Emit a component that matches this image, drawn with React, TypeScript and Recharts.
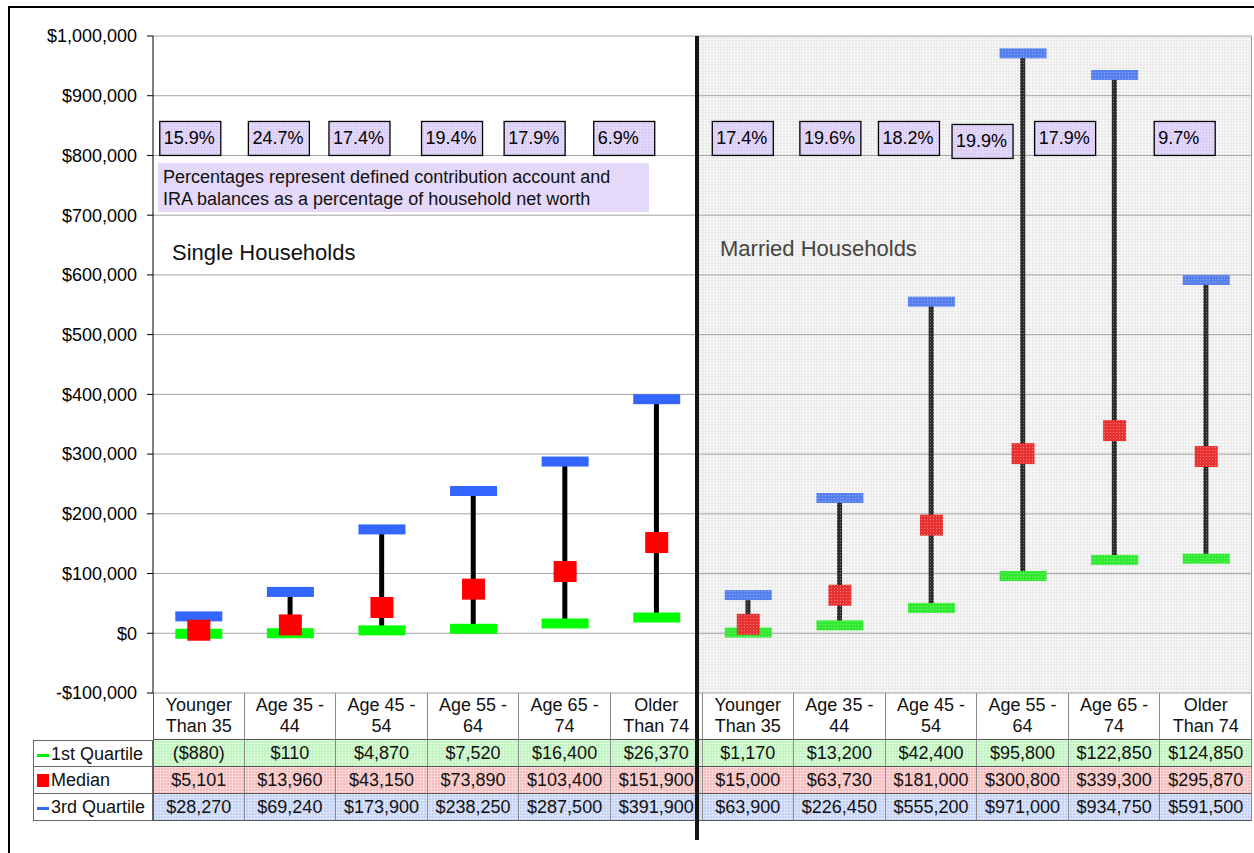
import React from "react";
import { ComposedChart, Bar, Line, XAxis, YAxis, CartesianGrid, Cell } from "recharts";

// age groups repeat for single and married households
const ageGroups = ["Younger\nThan 35", "Age 35 -\n44", "Age 45 -\n54", "Age 55 -\n64", "Age 65 -\n74", "Older\nThan 74"];
const householdTypes = ["Single Households", "Married Households"];

const firstQuartile = [-880, 110, 4870, 7520, 16400, 26370, 1170, 13200, 42400, 95800, 122850, 124850];
const median = [5101, 13960, 43150, 73890, 103400, 151900, 15000, 63730, 181000, 300800, 339300, 295870];
const thirdQuartile = [28270, 69240, 173900, 238250, 287500, 391900, 63900, 226450, 555200, 971000, 934750, 591500];
const dcShare = [15.9, 24.7, 17.4, 19.4, 17.9, 6.9, 17.4, 19.6, 18.2, 19.9, 17.9, 9.7];

const yTicks = [-100000, 0, 100000, 200000, 300000, 400000, 500000, 600000, 700000, 800000, 900000, 1000000];
const noteText = ["Percentages represent defined contribution account and", "IRA balances as a percentage of household net worth"];

// layout only: where the % boxes sit relative to each column centre
const PCT_BOX_BASE = 800000;
const PCT_NUDGE = [-9, -12, -23, -22, -31, -33, -6, -10, -23, -41, -50, -22];
const PCT_DROP = [0, 0, 0, 0, 0, 0, 0, 0, 0, 3, 0, 0];

const FONT = '"Liberation Sans", Arial, sans-serif';

const fmtAxis = (v: number) => (v < 0 ? `-$${Math.abs(v).toLocaleString("en-US")}` : `$${v.toLocaleString("en-US")}`);
const fmtCell = (v: number) => (v < 0 ? `($${Math.abs(v).toLocaleString("en-US")})` : `$${v.toLocaleString("en-US")}`);

const SOLID = { q1: "#00ff00", med: "#ff0000", q3: "#3366ff", whisker: "#000000" };
const HATCH = { q1: "url(#hGreen)", med: "url(#hRed)", q3: "url(#hBlue)", whisker: "url(#hWhisker)" };

const marker = (kind: "q1" | "med" | "q3") => (p: any) => {
  const { cx, cy, index } = p;
  if (cx == null || cy == null) return <g key={`${kind}-${index}`} />;
  const fill = index < 6 ? SOLID[kind] : HATCH[kind];
  if (kind === "med") {
    return <rect key={`${kind}-${index}`} x={cx - 11.5} y={cy - 10.5} width={23} height={21} fill={fill} />;
  }
  return <rect key={`${kind}-${index}`} x={cx - 23.5} y={cy - 5} width={47} height={10} fill={fill} />;
};

const pctBox = (p: any) => {
  const { cx, cy, index, payload } = p;
  if (cx == null || cy == null) return <g key={`pct-${index}`} />;
  const x = cx + PCT_NUDGE[index] - 30;
  const y = cy - 34 + PCT_DROP[index];
  return (
    <g key={`pct-${index}`}>
      <rect x={x} y={y} width={61} height={34} fill="url(#hPurple)" stroke="#000" strokeWidth={1.3} />
      <text x={x + 4} y={y + 16} dy="0.35em" fontSize={18} fontFamily={FONT} fill="#000">
        {payload.pct.toFixed(1)}%
      </text>
    </g>
  );
};

function Pattern({ id, base, dot }: { id: string; base: string; dot: string }) {
  return (
    <pattern id={id} width={3} height={3} patternUnits="userSpaceOnUse">
      <rect width={3} height={3} fill={base} />
      <rect width={1} height={1} fill={dot} />
    </pattern>
  );
}

export default function App() {
  const rows = firstQuartile.map((q1, i) => ({
    key: `c${i}`,
    label: ageGroups[i % 6],
    q1,
    med: median[i],
    q3: thirdQuartile[i],
    pct: dcShare[i],
  }));

  const rowBg = {
    q1: { backgroundColor: "#bdf5bd" },
    med: { backgroundColor: "#f6bcbc" },
    q3: { backgroundColor: "#c3d1f7" },
  };
  const grid = {
    backgroundImage:
      "linear-gradient(90deg, rgba(255,255,255,0.35) 1px, transparent 1px), linear-gradient(rgba(255,255,255,0.35) 1px, transparent 1px)",
    backgroundSize: "3px 3px",
  };

  const tableRows = [
    { name: "1st Quartile", key: "q1", icon: <span style={{ display: "inline-block", width: 12, height: 3, background: "#00ee00", marginRight: 2, verticalAlign: "middle" }} /> },
    { name: "Median", key: "med", icon: <span style={{ display: "inline-block", width: 12, height: 13, background: "#ff0000", marginRight: 2, verticalAlign: "-1px" }} /> },
    { name: "3rd Quartile", key: "q3", icon: <span style={{ display: "inline-block", width: 12, height: 3, background: "#3366ff", marginRight: 2, verticalAlign: "middle" }} /> },
  ] as const;

  return (
    <div style={{ position: "relative", width: 1254, height: 853, background: "#fff", fontFamily: FONT, overflow: "hidden" }}>
      <style>{"body{margin:0}"}</style>
      <svg width={0} height={0} style={{ position: "absolute" }}>
        <defs>
          <Pattern id="hGreen" base="#33ea33" dot="#7af57a" />
          <Pattern id="hRed" base="#e83232" dot="#f27a7a" />
          <Pattern id="hBlue" base="#5680ee" dot="#8eaaf5" />
          <Pattern id="hWhisker" base="#2a2a2a" dot="#777777" />
          <Pattern id="hPurple" base="#e2d6f8" dot="#cbb8f0" />
        </defs>
      </svg>

      {/* outer frame */}
      <div style={{ position: "absolute", left: 8, top: 6, width: 1260, height: 880, borderLeft: "2px solid #000", borderTop: "2px solid #000" }} />

      {/* married households background */}
      <div
        style={{
          position: "absolute", left: 698, top: 36, width: 554, height: 657, boxSizing: "border-box",
          backgroundColor: "#e9e9e9",
          backgroundImage:
            "linear-gradient(90deg, rgba(255,255,255,0.55) 1px, transparent 1px), linear-gradient(rgba(255,255,255,0.55) 1px, transparent 1px)",
          backgroundSize: "3px 3px",
          borderRight: "1px solid #999",
        }}
      />

      {/* note box */}
      <div style={{ position: "absolute", left: 158, top: 163, width: 491, height: 49, background: "#e4d9f8", boxSizing: "border-box", padding: "3px 0 0 5px", fontSize: 18, lineHeight: "22px", color: "#111", whiteSpace: "nowrap" }}>
        {noteText.map((t) => <div key={t}>{t}</div>)}
      </div>

      <div style={{ position: "absolute", left: 172, top: 239, fontSize: 22, color: "#111", lineHeight: "28px" }}>{householdTypes[0]}</div>
      <div style={{ position: "absolute", left: 720, top: 235, fontSize: 22, color: "#444", lineHeight: "28px" }}>{householdTypes[1]}</div>

      <div style={{ position: "absolute", left: 0, top: 0 }}>
        <ComposedChart width={1254} height={853} data={rows} margin={{ top: 36, right: 2, bottom: 160, left: 53 }}>
          <CartesianGrid horizontal vertical={false} stroke="#a3a3a3" />
          <XAxis dataKey="key" hide />
          <YAxis
            domain={[-100000, 1000000]}
            ticks={yTicks}
            interval={0}
            allowDataOverflow
            width={100}
            tickSize={6}
            tickMargin={10}
            tickFormatter={fmtAxis}
            axisLine={{ stroke: "#000" }}
            tickLine={{ stroke: "#000" }}
            tick={{ fill: "#000", fontSize: 18, fontFamily: FONT }}
          />
          <Bar dataKey={(d: any) => [d.q1, d.q3]} barSize={5} isAnimationActive={false}>
            {rows.map((r, i) => (
              <Cell key={r.key} fill={i < 6 ? SOLID.whisker : HATCH.whisker} />
            ))}
          </Bar>
          <Line dataKey="q1" stroke="none" dot={marker("q1")} activeDot={false} isAnimationActive={false} />
          <Line dataKey="q3" stroke="none" dot={marker("q3")} activeDot={false} isAnimationActive={false} />
          <Line dataKey="med" stroke="none" dot={marker("med")} activeDot={false} isAnimationActive={false} />
          <Line dataKey={() => PCT_BOX_BASE} stroke="none" dot={pctBox} activeDot={false} isAnimationActive={false} />
        </ComposedChart>
      </div>

      {/* data table */}
      <div
        style={{
          position: "absolute", left: 33, top: 693, width: 1219, display: "grid",
          gridTemplateColumns: "120px repeat(12, 1fr)", gridTemplateRows: "47px 27px 27px 27px",
          fontSize: 18, color: "#111",
        }}
      >
        <div />
        {rows.map((r, i) => (
          <div
            key={`h-${r.key}`}
            style={{
              borderLeft: i === 0 ? "1px solid #555" : undefined, borderRight: "1px solid #8a8a8a", borderBottom: "1px solid #555",
              textAlign: "center", whiteSpace: "pre-line", lineHeight: "21px", paddingTop: 2, boxSizing: "border-box",
            }}
          >
            {r.label}
          </div>
        ))}
        {tableRows.map((tr, ri) => (
          <React.Fragment key={tr.key}>
            <div
              style={{
                borderLeft: "1px solid #666", borderRight: "1px solid #666", borderBottom: "1px solid #666",
                borderTop: ri === 0 ? "1px solid #666" : undefined,
                paddingLeft: 3, lineHeight: "26px", boxSizing: "border-box", whiteSpace: "nowrap", overflow: "hidden",
              }}
            >
              {tr.icon}
              {tr.name}
            </div>
            {rows.map((r, i) => (
              <div
                key={`${tr.key}-${r.key}`}
                style={{
                  ...rowBg[tr.key], ...grid,
                  borderLeft: i === 0 ? "1px solid #555" : undefined,
                  borderRight: "1px solid #8a8a8a", borderBottom: "1px solid #555",
                  textAlign: "center", lineHeight: "26px", boxSizing: "border-box", whiteSpace: "nowrap",
                }}
              >
                {fmtCell(r[tr.key])}
              </div>
            ))}
          </React.Fragment>
        ))}
      </div>

      {/* single / married divider */}
      <div style={{ position: "absolute", left: 695, top: 36, width: 4, height: 804, background: "#151515" }} />
    </div>
  );
}
